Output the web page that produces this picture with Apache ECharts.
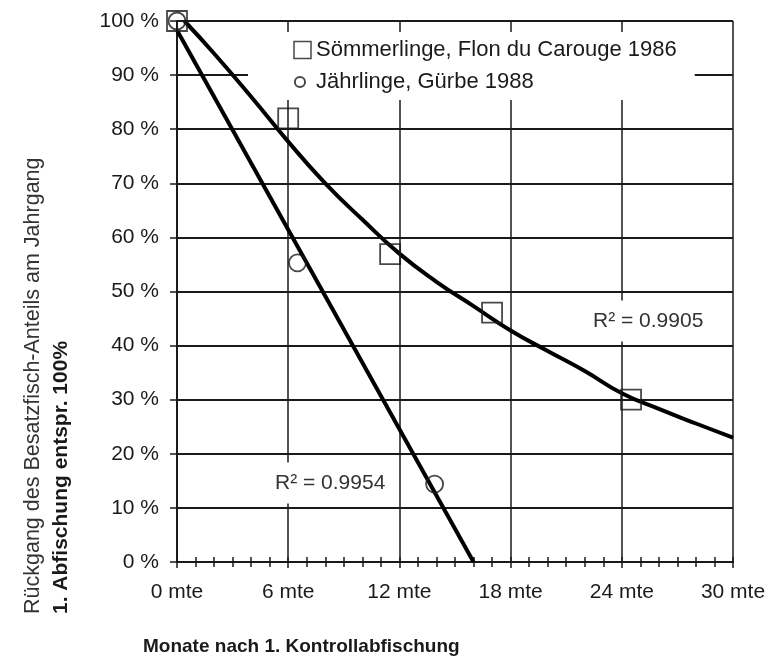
<!DOCTYPE html>
<html>
<head>
<meta charset="utf-8">
<script src="https://cdn.jsdelivr.net/npm/echarts@6/dist/echarts.min.js"></script>
<style>
    html, body { margin: 0; padding: 0; background: #fff; }
    #main { width: 769px; height: 660px; }
</style>
</head>
<body>
<div id="main"></div>
<script>
    // Daten
    var xTicks = [0, 6, 12, 18, 24, 30];
    var yTicks = [0, 10, 20, 30, 40, 50, 60, 70, 80, 90, 100];

    // Sömmerlinge, Flon du Carouge 1986: Monate / Anteil %
    var soemMonths = [0, 6, 11.5, 17, 24.5];
    var soemValues = [100, 82, 56.9, 46.1, 30];

    // Jährlinge, Gürbe 1988
    var jaehrMonths = [0, 6.5, 13.9];
    var jaehrValues = [100, 55.3, 14.4];

    // Trendkurve Sömmerlinge (R2 = 0.9905)
    var soemTrendMonths = [0.4, 2, 4, 6, 8, 10, 12, 14, 16, 18, 20, 22, 24, 26, 28, 30];
    var soemTrendValues = [100, 94, 86, 77.7, 70, 63.3, 57, 51.8, 47.3, 42.8, 39, 35.3,
        31.2, 28.3, 25.6, 23];

    // Trendgerade Jährlinge (R2 = 0.9954)
    var jaehrTrendMonths = [0, 16];
    var jaehrTrendValues = [98.3, 0];

    var soemName = 'Sömmerlinge, Flon du Carouge 1986';
    var jaehrName = 'Jährlinge, Gürbe 1988';

    function pairs(xs, ys) {
        var out = [];
        for (var i = 0; i < xs.length; i++) {
            out.push([xs[i], ys[i]]);
        }
        return out;
    }

    var FONT = 'Liberation Sans, Arial, sans-serif';
    var INK = '#1a1a1a';

    var myChart = echarts.init(document.getElementById('main'));
    var option = {
        backgroundColor: '#fff',
        animation: false,
        grid: {
            left: 177,
            right: 36,
            top: 21,
            bottom: 98
        },
        legend: {
            orient: 'vertical',
            left: 248,
            top: 32,
            padding: [7, 18, 7, 45],
            itemGap: 10,
            itemWidth: 17,
            itemHeight: 17,
            backgroundColor: '#fff',
            z: 1,
            textStyle: {
                fontFamily: FONT,
                fontSize: 22,
                lineHeight: 22,
                color: INK
            },
            data: [
                {
                    name: soemName,
                    icon: 'rect',
                    itemStyle: { color: '#fff', borderColor: INK, borderWidth: 1.5 }
                },
                {
                    name: jaehrName,
                    icon: 'path://M0,0 M20,20 M1,10 A6,6 0 1 1 13,10 A6,6 0 1 1 1,10 Z',
                    itemStyle: { color: '#fff', borderColor: INK, borderWidth: 2 }
                }
            ]
        },
        xAxis: [
            {
                type: 'value',
                min: 0,
                max: 30,
                interval: 6,
                axisLine: { lineStyle: { color: INK, width: 2 } },
                axisTick: { show: true, length: 6, lineStyle: { color: INK, width: 1.5 } },
                minorTick: { show: true, splitNumber: 6, length: 5, lineStyle: { color: INK, width: 1.5 } },
                splitLine: { show: true, lineStyle: { color: INK, width: 1.5 } },
                axisLabel: {
                    margin: 20,
                    fontFamily: FONT,
                    fontSize: 21,
                    color: INK,
                    formatter: '{value} mte'
                }
            },
            {
                // nur für die nach innen zeigenden Striche
                type: 'value',
                min: 0,
                max: 30,
                interval: 6,
                position: 'bottom',
                axisLine: { show: false },
                axisTick: { show: true, inside: true, length: 5, lineStyle: { color: INK, width: 1.5 } },
                minorTick: { show: true, splitNumber: 6, length: 5, lineStyle: { color: INK, width: 1.5 } },
                splitLine: { show: false },
                axisLabel: { show: false }
            }
        ],
        yAxis: {
            type: 'value',
            min: 0,
            max: 100,
            interval: 10,
            axisLine: { lineStyle: { color: INK, width: 2 } },
            axisTick: { show: true, length: 7, lineStyle: { color: INK, width: 1.5 } },
            splitLine: { show: true, lineStyle: { color: INK, width: 2 } },
            axisLabel: {
                margin: 18,
                fontFamily: FONT,
                fontSize: 21,
                color: INK,
                formatter: '{value} %'
            }
        },
        graphic: [
            {
                type: 'text',
                x: 33,
                y: 614,
                rotation: Math.PI / 2,
                z: 10,
                style: {
                    text: 'Rückgang des Besatzfisch-Anteils am Jahrgang',
                    fontFamily: FONT,
                    fontSize: 21.5,
                    fill: '#333',
                    align: 'left',
                    verticalAlign: 'middle'
                }
            },
            {
                type: 'text',
                x: 61,
                y: 614,
                rotation: Math.PI / 2,
                z: 10,
                style: {
                    text: '1. Abfischung entspr. 100%',
                    fontFamily: FONT,
                    fontSize: 21,
                    fontWeight: 'bold',
                    fill: INK,
                    align: 'left',
                    verticalAlign: 'middle'
                }
            },
            {
                type: 'text',
                x: 143,
                y: 647,
                z: 10,
                style: {
                    text: 'Monate nach 1. Kontrollabfischung',
                    fontFamily: FONT,
                    fontSize: 19,
                    fontWeight: 'bold',
                    fill: INK,
                    align: 'left',
                    verticalAlign: 'middle'
                }
            },
            {
                type: 'text',
                x: 581,
                y: 321,
                z: 1,
                style: {
                    text: 'R² = 0.9905',
                    fontFamily: FONT,
                    fontSize: 21,
                    fill: '#333',
                    backgroundColor: '#fff',
                    padding: [10, 12],
                    align: 'left',
                    verticalAlign: 'middle'
                }
            },
            {
                type: 'text',
                x: 263,
                y: 483,
                z: 1,
                style: {
                    text: 'R² = 0.9954',
                    fontFamily: FONT,
                    fontSize: 21,
                    fill: '#333',
                    backgroundColor: '#fff',
                    padding: [10, 12],
                    align: 'left',
                    verticalAlign: 'middle'
                }
            }
        ],
        series: [
            {
                name: 'trend1',
                type: 'line',
                data: pairs(soemTrendMonths, soemTrendValues),
                smooth: true,
                showSymbol: false,
                silent: true,
                z: 3,
                lineStyle: { color: '#000', width: 4 }
            },
            {
                name: 'trend2',
                type: 'line',
                data: pairs(jaehrTrendMonths, jaehrTrendValues),
                showSymbol: false,
                silent: true,
                z: 3,
                lineStyle: { color: '#000', width: 4 }
            },
            {
                name: soemName,
                type: 'scatter',
                data: pairs(soemMonths, soemValues),
                symbol: 'rect',
                symbolSize: 20,
                z: 4,
                itemStyle: { color: 'rgba(255,255,255,0)', borderColor: INK, borderWidth: 1.8 }
            },
            {
                name: jaehrName,
                type: 'scatter',
                data: pairs(jaehrMonths, jaehrValues),
                symbol: 'circle',
                symbolSize: 17,
                z: 5,
                itemStyle: { color: 'rgba(255,255,255,0)', borderColor: INK, borderWidth: 1.8 }
            }
        ]
    };
    myChart.setOption(option);
</script>
</body>
</html>
